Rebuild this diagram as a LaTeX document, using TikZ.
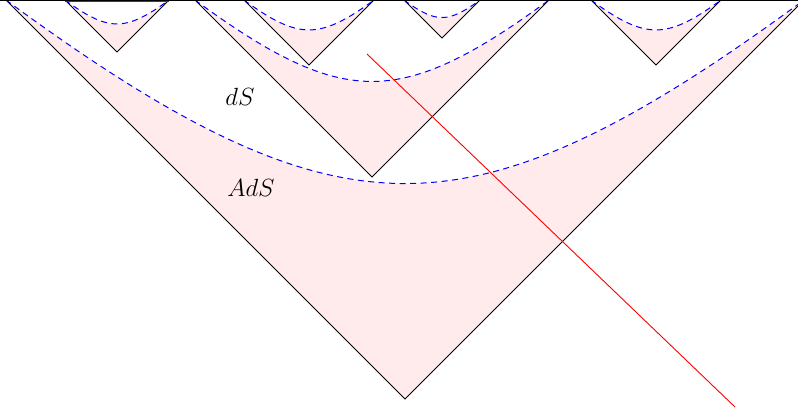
\documentclass[tikz,border=0pt]{standalone}
\definecolor{adspink}{RGB}{255,235,235}
\tikzset{
  x=1pt, y=1pt,
  conefill/.style={fill=adspink},
  coneedge/.style={draw=black, line width=0.9pt, line join=miter},
  slice/.style={draw=blue, line width=1pt, dash pattern=on 6pt off 4.5pt},
  wall/.style={draw=red, line width=0.9pt},
  toplabel/.style={font=\fontsize{24}{28}\selectfont, inner sep=0pt},
}
% #1 = x of apex, #2 = depth of apex (= half width), #3 = closed top (1) or open (0)
\newcommand\conepiece[2]{%
  \pgfmathsetmacro\dd{0.46*#2}%
  \fill[conefill] (#1-#2,0) -- (#1,-#2) -- (#1+#2,0)
     -- plot[domain=1:-1,samples=80] ({#1+#2*\x},{-\dd*(1-(sqrt(0.5625+\x*\x)-0.75)/(sqrt(1.5625)-0.75))}) -- cycle;
}
\newcommand\coneedges[2]{%
  \draw[coneedge] (#1-#2,0) -- (#1,-#2) -- (#1+#2,0);
}
\newcommand\coneslice[2]{%
  \pgfmathsetmacro\dd{0.46*#2}%
  \draw[slice] plot[domain=-1:1,samples=80] ({#1+#2*\x},{-\dd*(1-(sqrt(0.5625+\x*\x)-0.75)/(sqrt(1.5625)-0.75))});
}
\begin{document}
\begin{tikzpicture}
\useasboundingbox (0,0) rectangle (798,-413);
\clip (0,0) rectangle (798,-413);
% fills
\conepiece{405}{399}
\conepiece{372}{177}
\conepiece{117}{52}
\conepiece{309}{65}
\conepiece{442}{38}
\conepiece{656}{65}
% edges
\coneedges{405}{399}
\coneedges{372}{177}
\coneedges{117}{52}
\coneedges{309}{65}
\coneedges{442}{38}
\coneedges{656}{65}
% slices
\coneslice{405}{399}
\coneslice{372}{177}
\coneslice{117}{52}
\coneslice{309}{65}
\coneslice{442}{38}
\coneslice{656}{65}
% top boundary
\coordinate (tl) at (0,-0.6);
\coordinate (tr) at (798,-0.6);
\draw[line width=1.4pt] (tl) -- (tr);
\draw[line width=1.2pt, draw=black!75] (65,-1.2) -- (169,-1.2);
% domain wall
\coordinate (w1) at (367,-54);
\coordinate (w2) at (735,-407);
\draw[wall] (w1) -- (w2);
% labels
\node[toplabel] (ds) at (240,-97) {$dS$};
\node[toplabel] (ads) at (251,-188) {$AdS$};
\end{tikzpicture}
\end{document}
